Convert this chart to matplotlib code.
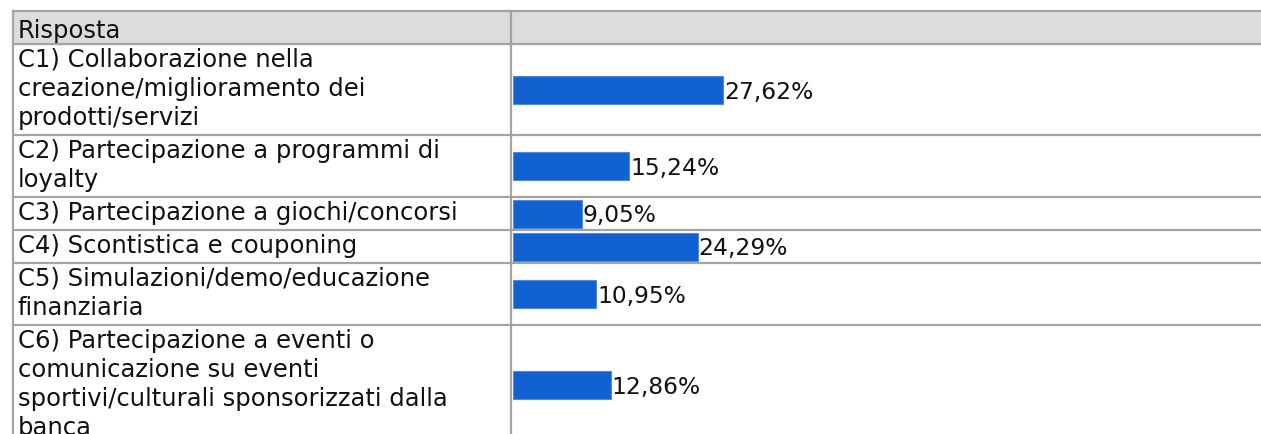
import matplotlib
matplotlib.use("Agg")
import matplotlib.pyplot as plt

plt.rcParams["font.family"] = "DejaVu Sans"

# data
header = "Risposta"
labels = [
    "C1) Collaborazione nella\ncreazione/miglioramento dei\nprodotti/servizi",
    "C2) Partecipazione a programmi di\nloyalty",
    "C3) Partecipazione a giochi/concorsi",
    "C4) Scontistica e couponing",
    "C5) Simulazioni/demo/educazione\nfinanziaria",
    "C6) Partecipazione a eventi o\ncomunicazione su eventi\nsportivi/culturali sponsorizzati dalla\nbanca",
]
values = [27.62, 15.24, 9.05, 24.29, 10.95, 12.86]

W, H = 1261, 435
fig = plt.figure(figsize=(W / 100, H / 100), dpi=100)
ax = fig.add_axes([0, 0, 1, 1])
ax.set_xlim(0, W)
ax.set_ylim(H, 0)
ax.axis("off")

line_c = "#a4a4a4"
text_c = "#111111"
fs = 17.5
left, mid, top, head_h = 13, 511, 12, 33
line_h = 29

# row layout from number of text lines
tops = [top + head_h]
for lab in labels:
    n = lab.count("\n") + 1
    tops.append(tops[-1] + 4 + line_h * n)
centers = [(a + b) / 2 for a, b in zip(tops[:-1], tops[1:])]

# header background
ax.axhspan(top, top + head_h, xmin=left / W, xmax=1, color="#dcdcdc", zorder=0)
ax.text(left + 5, top + 26, header, fontsize=fs, color=text_c, va="baseline")

# grid
for y in [top, top + head_h] + tops[1:]:
    ax.plot([left, W], [y, y], color=line_c, lw=1.6, zorder=1)
for x in [left, mid]:
    ax.plot([x, x], [top, H], color=line_c, lw=1.6, zorder=1)

# row labels
for t, lab in zip(tops[:-1], labels):
    for i, part in enumerate(lab.split("\n")):
        ax.text(left + 5, t + 22 + i * line_h, part, fontsize=fs,
                color=text_c, va="baseline")

# bars
x0 = 513
px_per_pct = 7.6
bx = fig.add_axes([x0 / W, 0, (W - x0) / W, 1])
bx.set_xlim(0, (W - x0) / px_per_pct)
bx.set_ylim(H, 0)
bx.axis("off")
bx.barh(centers, values, height=28, color="#1161d0", edgecolor="#4f8ae0",
        linewidth=0.8)
for c, v in zip(centers, values):
    bx.text(v + 0.15, c + 1.5, f"{v:.2f}".replace(".", ",") + "%",
            fontsize=16.8, color=text_c, va="center")

fig.savefig("out.png", dpi=100)
